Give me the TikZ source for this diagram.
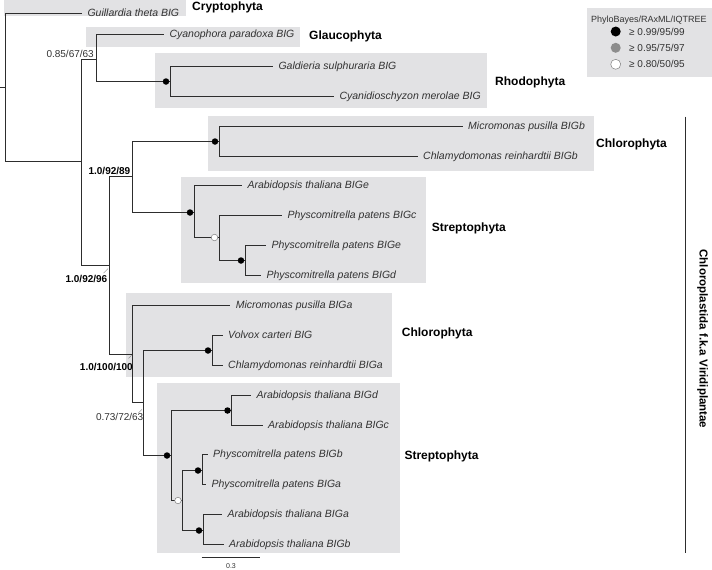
\documentclass[tikz,border=0pt]{standalone}
\usepackage{fontspec}
\setmainfont{Liberation Sans}
\setsansfont{Liberation Sans}
\definecolor{boxg}{RGB}{226,226,228}
\definecolor{linec}{RGB}{45,45,45}
\definecolor{spc}{RGB}{50,50,50}
\definecolor{midg}{RGB}{140,140,140}
\begin{document}
\begin{tikzpicture}[x=1pt,y=-1pt,
  br/.style={draw=linec, line width=1.6pt, line cap=rect},
  sp/.style={font=\fontsize{10.5}{12}\selectfont\itshape, text=spc, anchor=west, inner sep=0pt, outer xsep=6.5pt, text height=7.5pt, text depth=2.2pt},
  clade/.style={font=\fontsize{12}{14}\selectfont\bfseries, anchor=west, inner sep=0pt, text=black},
  bs/.style={font=\fontsize{10}{12}\selectfont, anchor=east, inner sep=0pt, text=spc},
  bsb/.style={font=\fontsize{10}{12}\selectfont\bfseries, anchor=east, inner sep=0pt, text=black},
  leader/.style={draw=gray, line width=0.4pt},
  dotb/.style={circle, fill=black, inner sep=0pt, minimum size=6.5pt},
  doto/.style={circle, fill=white, draw=gray, line width=0.5pt, inner sep=0pt, minimum size=6.5pt},
  legt/.style={anchor=west, inner sep=0pt, font=\fontsize{9}{11}\selectfont, text=spc},
  lege/.style={anchor=west, inner sep=0pt, font=\fontsize{10}{12}\selectfont, text=spc},
  legc/.style={circle, inner sep=0pt, minimum size=10pt}
]
\useasboundingbox (0,0) rectangle (712,570);

% clade boxes
\fill[boxg] (4,0) rectangle (186,16);
\fill[boxg] (86,27) rectangle (300,47);
\fill[boxg] (155,53) rectangle (487,108);
\fill[boxg] (208,115.7) rectangle (594,170.7);
\fill[boxg] (181,176.7) rectangle (425.7,282.7);
\fill[boxg] (126,293.3) rectangle (391.7,377.3);
\fill[boxg] (157.3,383.3) rectangle (400,553.3);

% internal nodes
\coordinate (rootstub) at (0,87.5);
\coordinate (R) at (5.5,87.5);
\coordinate (A) at (81.5,161.5);
\coordinate (B) at (96.5,59.5);
\coordinate (Rh) at (170.5,81.5);
\coordinate (C) at (109.5,265.5);
\coordinate (D) at (132.5,176.5);
\coordinate (Ch1) at (219.5,141.5);
\coordinate (S1) at (194.5,212.5);
\coordinate (S1b) at (219.5,237.5);
\coordinate (S1c) at (245.5,260.5);
\coordinate (E) at (132.5,354.5);
\coordinate (F) at (143.5,402.5);
\coordinate (Ch2) at (212.5,350.5);
\coordinate (S2) at (171.5,455.5);
\coordinate (S2a) at (231.5,410.5);
\coordinate (S2b) at (182.5,500.5);
\coordinate (S2c) at (202.5,470.5);
\coordinate (S2d) at (203.5,530.5);

% tips
\node[sp] (tGu) at (81,13.5) {Guillardia theta BIG};
\node[sp] (tCy) at (163,34.5) {Cyanophora paradoxa BIG};
\node[sp] (tGa) at (272,66.5) {Galdieria sulphuraria BIG};
\node[sp] (tCm) at (333,96.5) {Cyanidioschyzon merolae BIG};
\node[sp] (tMb) at (461.7,126.5) {Micromonas pusilla BIGb};
\node[sp] (tCb) at (416.7,156.5) {Chlamydomonas reinhardtii BIGb};
\node[sp] (tAe) at (241,185.5) {Arabidopsis thaliana BIGe};
\node[sp] (tPc) at (281,215.5) {Physcomitrella patens BIGc};
\node[sp] (tPe) at (265,245.5) {Physcomitrella patens BIGe};
\node[sp] (tPd) at (260,275.5) {Physcomitrella patens BIGd};
\node[sp] (tMa) at (229.3,305.5) {Micromonas pusilla BIGa};
\node[sp] (tVo) at (221.7,335.5) {Volvox carteri BIG};
\node[sp] (tCa) at (221.7,365.5) {Chlamydomonas reinhardtii BIGa};
\node[sp] (tAd) at (250,395.5) {Arabidopsis thaliana BIGd};
\node[sp] (tAc) at (261.7,425.5) {Arabidopsis thaliana BIGc};
\node[sp] (tPb) at (206.7,454.5) {Physcomitrella patens BIGb};
\node[sp] (tPa) at (205,484.5) {Physcomitrella patens BIGa};
\node[sp] (tAa) at (221,514.5) {Arabidopsis thaliana BIGa};
\node[sp] (tAb) at (222.7,544.5) {Arabidopsis thaliana BIGb};

% branches
\draw[br] (rootstub) -- (R);
\draw[br] (R) |- (tGu.west);
\draw[br] (R) |- (A);
\draw[br] (A) |- (B);
\draw[br] (A) |- (C);
\draw[br] (B) |- (tCy.west);
\draw[br] (B) |- (Rh);
\draw[br] (Rh) |- (tGa.west);
\draw[br] (Rh) |- (tCm.west);
\draw[br] (C) |- (D);
\draw[br] (C) |- (E);
\draw[br] (D) |- (Ch1);
\draw[br] (D) |- (S1);
\draw[br] (Ch1) |- (tMb.west);
\draw[br] (Ch1) |- (tCb.west);
\draw[br] (S1) |- (tAe.west);
\draw[br] (S1) |- (S1b);
\draw[br] (S1b) |- (tPc.west);
\draw[br] (S1b) |- (S1c);
\draw[br] (S1c) |- (tPe.west);
\draw[br] (S1c) |- (tPd.west);
\draw[br] (E) |- (tMa.west);
\draw[br] (E) |- (F);
\draw[br] (F) |- (Ch2);
\draw[br] (F) |- (S2);
\draw[br] (Ch2) |- (tVo.west);
\draw[br] (Ch2) |- (tCa.west);
\draw[br] (S2) |- (S2a);
\draw[br] (S2) |- (S2b);
\draw[br] (S2a) |- (tAd.west);
\draw[br] (S2a) |- (tAc.west);
\draw[br] (S2b) |- (S2c);
\draw[br] (S2b) |- (S2d);
\draw[br] (S2c) |- (tPb.west);
\draw[br] (S2c) |- (tPa.west);
\draw[br] (S2d) |- (tAa.west);
\draw[br] (S2d) |- (tAb.west);

% support markers
\node[dotb] (mRh) at ([xshift=-4.5pt]Rh) {};
\node[dotb] (mCh1) at ([xshift=-4.5pt]Ch1) {};
\node[dotb] (mS1) at ([xshift=-4.5pt]S1) {};
\node[doto] (mS1b) at ([xshift=-5pt]S1b) {};
\node[dotb] (mS1c) at ([xshift=-4.5pt]S1c) {};
\node[dotb] (mCh2) at ([xshift=-4.5pt]Ch2) {};
\node[dotb] (mS2) at ([xshift=-4.5pt]S2) {};
\node[dotb] (mS2a) at ([xshift=-4pt]S2a) {};
\node[doto] (mS2b) at ([xshift=-4.5pt]S2b) {};
\node[dotb] (mS2c) at ([xshift=-4.5pt]S2c) {};
\node[dotb] (mS2d) at ([xshift=-4.5pt]S2d) {};

% support values
\node[bs] (l1) at (94,53.7) {0.85/67/63};
\node[bsb] (l2) at (107.5,279) {1.0/92/96};
\node[bsb] (l3) at (130.5,170.7) {1.0/92/89};
\node[bsb] (l4) at (133,367.3) {1.0/100/100};
\node[bs] (l5) at (143.5,416.7) {0.73/72/63};
\draw[leader] ([shift={(-4,-2)}]l2.north east) -- ++(4.5,-4.5);
\draw[leader] ([shift={(-4.5,-5)}]l4.north east) -- ++(3,-3);
\draw[leader] ([shift={(-5,0)}]l5.north east) -- ++(3.5,-3.5);

% clade names
\node[clade] (cCr) at (192,7) {Cryptophyta};
\node[clade] (cGl) at (309,36.5) {Glaucophyta};
\node[clade] (cRh) at (495,82.5) {Rhodophyta};
\node[clade] (cCh1) at (596,144) {Chlorophyta};
\node[clade] (cSt1) at (431.7,228.3) {Streptophyta};
\node[clade] (cCh2) at (401.7,333) {Chlorophyta};
\node[clade] (cSt2) at (404.3,456) {Streptophyta};

% bracket
\coordinate (brT) at (685.5,116.7);
\coordinate (brB) at (685.5,552.7);
\draw[draw=linec, line width=1.6pt] (brT) -- (brB);
\node[rotate=-90, inner sep=0pt, font=\fontsize{11.5}{14}\selectfont\bfseries] (vir) at (702.5,339) {Chloroplastida f.k.a Viridiplantae};

% scale bar
\coordinate (sb1) at (201.7,557.5);
\coordinate (sb2) at (260,557.5);
\draw[draw=linec, line width=0.8pt] (sb1) -- (sb2);
\node[inner sep=0pt, font=\fontsize{7}{8}\selectfont, text=spc] (sbl) at (231,566) {0.3};

% legend
\fill[boxg] (587,8) rectangle (712,77);
\node[legt] (lt) at (591,20) {PhyloBayes/RAxML/IQTREE};
\node[legc, fill=black] (lc1) at (615.7,31.5) {};
\node[legc, fill=midg] (lc2) at (615.7,47.8) {};
\node[legc, fill=white, draw=gray, line width=0.5pt] (lc3) at (615.7,64.3) {};
\node[lege] (le1) at (629,31.5) {≥ 0.99/95/99};
\node[lege] (le2) at (629,47.8) {≥ 0.95/75/97};
\node[lege] (le3) at (629,64.3) {≥ 0.80/50/95};
\end{tikzpicture}
\end{document}
